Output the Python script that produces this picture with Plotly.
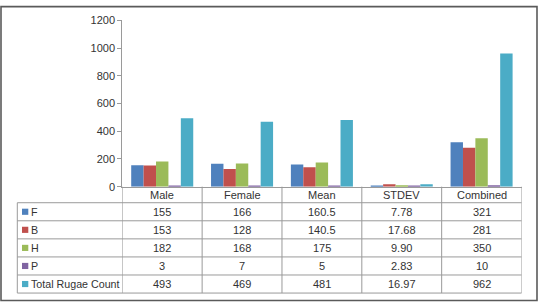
import plotly.graph_objects as go

# ---- data ----
categories = ["Male", "Female", "Mean", "STDEV", "Combined"]
series_names = ["F", "B", "H", "P", "Total Rugae Count"]
F_values = [155, 166, 160.5, 7.78, 321]
B_values = [153, 128, 140.5, 17.68, 281]
H_values = [182, 168, 175, 9.90, 350]
P_values = [3, 7, 5, 2.83, 10]
Total_values = [493, 469, 481, 16.97, 962]
y_ticks = [0, 200, 400, 600, 800, 1000, 1200]

series_values = [F_values, B_values, H_values, P_values, Total_values]
colors = ["#4F81BD", "#C0504D", "#9BBB59", "#8064A2", "#4BACC6"]

W, H = 538, 308
FONT = "Liberation Sans, Arial, sans-serif"
TXT = "#333333"
GRID = "#9a9a9a"
TS = 11  # table font size


def px(x):
    return x / W


def py(y):
    return 1 - y / H


axis_left, axis_right = 122.3, 521.5
y_top, y_axis = 15.0, 188.0
header_bottom = 204.7
row_h = 18.8
table_left = 17.3
table_bottom = header_bottom + row_h * len(series_names)

fig = go.Figure()
for name, vals, col in zip(series_names, series_values, colors):
    fig.add_trace(go.Bar(x=categories, y=vals, name=name, marker=dict(color=col, line=dict(width=0))))


def fmt(v, cat):
    if cat == "STDEV":
        return f"{v:.2f}"
    return f"{v:g}"


shapes = []
annotations = []

# header labels
for c in categories:
    annotations.append(dict(x=c, xref="x", y=py((y_axis + header_bottom) / 2 + 0.3), yref="paper",
                            text=c, showarrow=False, xanchor="center", yanchor="middle",
                            font=dict(family=FONT, size=TS, color=TXT)))

# rows
for i, (name, vals, col) in enumerate(zip(series_names, series_values, colors)):
    yc = header_bottom + row_h * (i + 0.5)
    shapes.append(dict(type="rect", xref="paper", yref="paper",
                       x0=px(22), x1=px(28.3), y0=py(yc - 3.2), y1=py(yc + 3.2),
                       fillcolor=col, line=dict(width=0)))
    annotations.append(dict(x=px(29.3), xref="paper", y=py(yc), yref="paper", text=name,
                            showarrow=False, xanchor="left", yanchor="middle",
                            font=dict(family=FONT, size=10.7, color=TXT)))
    for c, v in zip(categories, vals):
        annotations.append(dict(x=c, xref="x", y=py(yc), yref="paper", text=fmt(v, c),
                                showarrow=False, xanchor="center", yanchor="middle",
                                font=dict(family=FONT, size=TS, color=TXT)))

# horizontal table lines
for i in range(len(series_names) + 1):
    yy = header_bottom + row_h * i
    shapes.append(dict(type="line", xref="paper", yref="paper", x0=px(table_left), x1=px(axis_right),
                       y0=py(yy), y1=py(yy), line=dict(color=GRID, width=1)))
# vertical table lines at category boundaries
for j in range(len(categories) + 1):
    shapes.append(dict(type="line", xref="x", yref="paper", x0=j - 0.5, x1=j - 0.5,
                       y0=py(y_axis), y1=py(table_bottom), line=dict(color=GRID, width=1)))
# left edge of table
shapes.append(dict(type="line", xref="paper", yref="paper", x0=px(table_left), x1=px(table_left),
                   y0=py(header_bottom), y1=py(table_bottom), line=dict(color=GRID, width=1)))
# outer border
shapes.append(dict(type="rect", xref="paper", yref="paper", x0=px(1), x1=px(537), y0=py(306.5), y1=py(0.7),
                   line=dict(color="#5a5a5a", width=1.6), fillcolor="rgba(0,0,0,0)"))

fig.update_layout(
    width=W, height=H,
    margin=dict(l=0, r=0, t=0, b=0),
    paper_bgcolor="white", plot_bgcolor="white",
    barmode="group", bargap=0.223, bargroupgap=0,
    showlegend=False,
    xaxis=dict(domain=[px(axis_left), px(axis_right)], type="category", categoryorder="array",
               categoryarray=categories, showticklabels=False, ticks="", showgrid=False,
               showline=True, linecolor=GRID, linewidth=1, zeroline=False, fixedrange=True,
               range=[-0.5, len(categories) - 0.5]),
    yaxis=dict(domain=[py(y_axis), py(y_top)], range=[0, 1200], tickvals=y_ticks,
               ticks="outside", ticklen=4, tickcolor=GRID, showline=True, linecolor=GRID, linewidth=1,
               showgrid=False, zeroline=False, tickfont=dict(family=FONT, size=11, color=TXT)),
    shapes=shapes, annotations=annotations,
)

fig.write_html("out.html", config={"displayModeBar": False},
               post_script="document.body.style.margin='0';document.body.style.overflow='hidden';")
